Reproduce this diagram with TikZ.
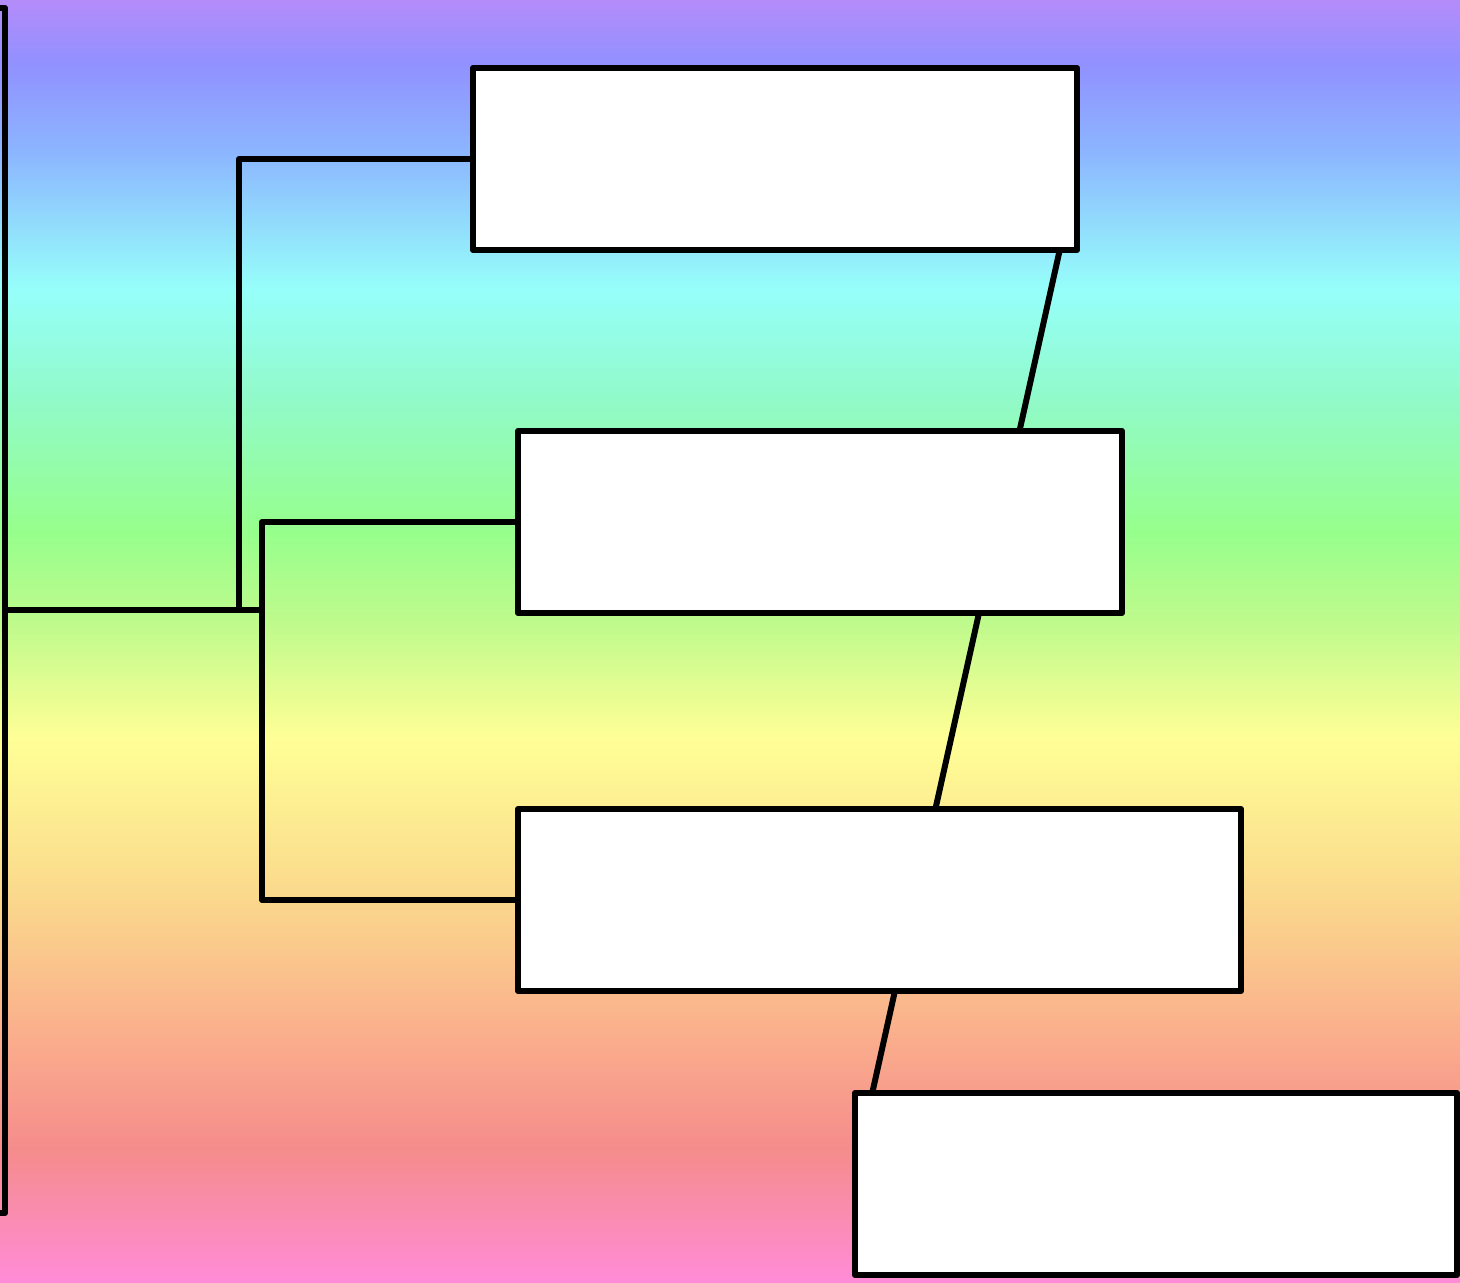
\documentclass[tikz,border=0pt]{standalone}
\usepackage{xcolor}
\usepackage{tikz}
\usetikzlibrary{positioning,calc}
\definecolor{bandpink}{RGB}{255,140,215}
\definecolor{bandsalmon}{RGB}{245,140,140}
\definecolor{bandpeach}{RGB}{250,170,140}
\definecolor{bandorange}{RGB}{250,215,140}
\definecolor{bandyellow}{RGB}{255,255,150}
\definecolor{bandlime}{RGB}{190,250,140}
\definecolor{bandgreen}{RGB}{150,255,140}
\definecolor{bandmint}{RGB}{145,250,200}
\definecolor{bandcyan}{RGB}{150,255,250}
\definecolor{bandsky}{RGB}{140,180,255}
\definecolor{bandblue}{RGB}{145,145,255}
\definecolor{bandviolet}{RGB}{180,140,250}
\pgfdeclareverticalshading{rainbowbands}{100bp}{%
color(0bp)=(bandpink); color(25bp)=(bandpink); color(30.2bp)=(bandsalmon);
color(34.1bp)=(bandpeach); color(39.9bp)=(bandorange); color(46.2bp)=(bandyellow);
color(50.8bp)=(bandlime); color(54.3bp)=(bandgreen); color(59.4bp)=(bandmint);
color(63.7bp)=(bandcyan); color(69.2bp)=(bandsky); color(72.5bp)=(bandblue);
color(75bp)=(bandviolet); color(100bp)=(bandviolet)}
\pgfdeclarelayer{bands}
\pgfdeclarelayer{wire}
\pgfsetlayers{bands,wire,main}
\tikzset{
  frame/.style={draw=black,line width=1.7pt,line join=round},
  blank/.style={frame,fill=white,minimum height=1.82cm,inner sep=0pt},
  elbow/.style={draw=black,line width=1.7pt,line join=round}
}

\begin{document}
\begin{tikzpicture}
\useasboundingbox (0,0) rectangle (14.6,12.83);
\clip (0,0) rectangle (14.6,12.83);
\begin{pgfonlayer}{bands}
\fill[shading=rainbowbands] (0,0) rectangle (14.6,12.83);
\end{pgfonlayer}
% root frame, mostly off the page
\node[frame,minimum width=2cm,minimum height=12.05cm,inner sep=0pt] (root) at (-0.95,6.725) {};
\node[blank,minimum width=6.04cm] (first) at (7.75,11.24) {};
\node[blank,minimum width=6.04cm] (second) at (8.20,7.61) {};
\node[blank,minimum width=7.23cm] (third) at (8.795,3.83) {};
\node[blank,minimum width=6.02cm] (fourth) at (11.56,0.99) {};
\begin{pgfonlayer}{wire}
\draw[elbow,shorten <=0.5cm,shorten >=0.5cm] (first.east) -- (fourth.west);
\end{pgfonlayer}
\draw[elbow] (root.east) -- ++(2.31,0) |- (first.west);
\draw[elbow] (root.east) -- ++(2.54,0) |- (second.west);
\draw[elbow] (root.east) -- ++(2.54,0) |- (third.west);
\end{tikzpicture}
\end{document}
